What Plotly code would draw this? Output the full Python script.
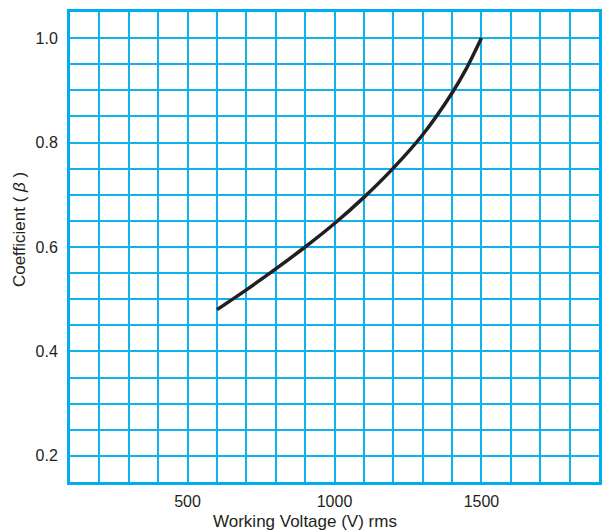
import plotly.graph_objects as go

# Working voltage (V rms) vs coefficient beta
voltage = [600, 700, 800, 900, 1000, 1100, 1200, 1300, 1400, 1450, 1500]
beta = [0.48, 0.518, 0.558, 0.600, 0.645, 0.695, 0.751, 0.815, 0.895, 0.943, 1.0]

grid_col = '#10b2ee'
frame_col = '#00aeef'

fig = go.Figure()

fig.add_trace(go.Scatter(
    x=voltage, y=beta,
    mode='lines',
    line=dict(color='#231f20', width=3.5, shape='spline', smoothing=0.8),
    showlegend=False
))

fig.update_layout(
    width=603, height=531,
    margin=dict(l=70, r=1, t=12, b=49),
    plot_bgcolor='white',
    paper_bgcolor='white',
    font=dict(family='Liberation Sans, Arial, sans-serif', size=16, color='#231f20'),
    annotations=[
        dict(text='Working Voltage (V) rms', xref='paper', yref='paper',
             x=0.445, y=0, xanchor='center', yanchor='middle', yshift=-39,
             showarrow=False,
             font=dict(family='Liberation Sans Narrow, Arial Narrow, sans-serif', size=17)),
        dict(text='Coefficient ( <i>β</i> )', xref='paper', yref='paper',
             x=0, xshift=-51, y=0.536, xanchor='center', yanchor='middle',
             textangle=-90, showarrow=False,
             font=dict(family='Liberation Sans Narrow, Arial Narrow, sans-serif', size=17)),
    ]
)

fig.update_xaxes(
    range=[100, 1900], tick0=0, dtick=500,
    showgrid=True, gridcolor=grid_col, gridwidth=1.5,
    minor=dict(dtick=100, showgrid=True, gridcolor=grid_col, gridwidth=1.5),
    showline=True, mirror=True, linecolor=frame_col, linewidth=3,
    ticks='outside', ticklen=3, tickcolor='rgba(0,0,0,0)', zeroline=False
)
fig.update_yaxes(
    range=[0.15, 1.05], tick0=0, dtick=0.2, tickformat='.1f',
    showgrid=True, gridcolor=grid_col, gridwidth=1.5,
    minor=dict(dtick=0.05, showgrid=True, gridcolor=grid_col, gridwidth=1.5),
    showline=True, mirror=True, linecolor=frame_col, linewidth=3,
    ticks='outside', ticklen=6, tickcolor='rgba(0,0,0,0)', zeroline=False
)

# the page body has a default 8px margin; remove it so the figure sits at the corner
fig.write_html("out.html", config={'displayModeBar': False},
               post_script="document.body.style.margin='0';")
